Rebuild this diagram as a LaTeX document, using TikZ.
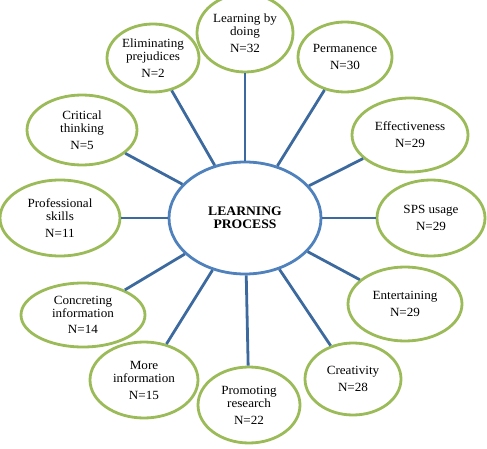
\documentclass[tikz,border=0pt]{standalone}
\usepackage{fontspec}
\setmainfont{Liberation Serif}[FakeStretch=1.05]
\usetikzlibrary{shapes.geometric}
\definecolor{leafgreen}{RGB}{155,187,89}
\definecolor{linkblue}{RGB}{61,106,158}
\definecolor{hubblue}{RGB}{79,129,189}
\tikzset{
  topic/.style={ellipse, draw=leafgreen, line width=2.8pt, fill=white, inner sep=0pt,
    align=center, font=\fontsize{12.5}{13}\selectfont},
  hub/.style={ellipse, draw=hubblue, line width=2.8pt, fill=white, inner sep=0pt,
    minimum width=152pt, minimum height=112pt, align=center,
    font=\fontsize{13}{13}\selectfont\bfseries},
  link/.style={draw=linkblue, line width=2.8pt}
}
\begin{document}
\begin{tikzpicture}[x=1pt,y=-1pt]
\useasboundingbox (0,0) rectangle (487,449);
\node[hub] (c) at (245,218) {LEARNING\\PROCESS};
\node[topic, minimum width=96pt, minimum height=78pt] (t1) at (245,33) {Learning by\\doing\\[4pt]N=32};
\node[topic, minimum width=94pt, minimum height=70pt] (t2) at (345,57) {Permanence\\[4pt]N=30};
\node[topic, minimum width=116pt, minimum height=74pt] (t3) at (410,135) {Effectiveness\\[4pt]N=29};
\node[topic, minimum width=108pt, minimum height=76pt] (t4) at (431,218) {SPS usage\\[4pt]N=29};
\node[topic, minimum width=114pt, minimum height=74pt] (t5) at (405,304) {Entertaining\\[4pt]N=29};
\node[topic, minimum width=96pt, minimum height=72pt] (t6) at (353,379) {Creativity\\[4pt]N=28};
\node[topic, minimum width=102pt, minimum height=76pt] (t7) at (249,405) {Promoting\\research\\[4pt]N=22};
\node[topic, minimum width=108pt, minimum height=76pt] (t8) at (144,380) {More\\information\\[4pt]N=15};
\node[topic, minimum width=124pt, minimum height=64pt] (t9) at (83,315) {Concreting\\information\\[3pt]N=14};
\node[topic, minimum width=120pt, minimum height=76pt] (t10) at (60,218) {Professional\\skills\\[4pt]N=11};
\node[topic, minimum width=110pt, minimum height=70pt] (t11) at (82,130) {Critical\\thinking\\[4pt]N=5};
\node[topic, minimum width=92pt, minimum height=68pt] (t12) at (153,58) {Eliminating\\prejudices\\[4pt]N=2};
\foreach \t in {t1,t2,t3,t4,t5,t6,t7,t8,t9,t10,t11,t12}
  \draw[link] (c) -- (\t);
\end{tikzpicture}
\end{document}
